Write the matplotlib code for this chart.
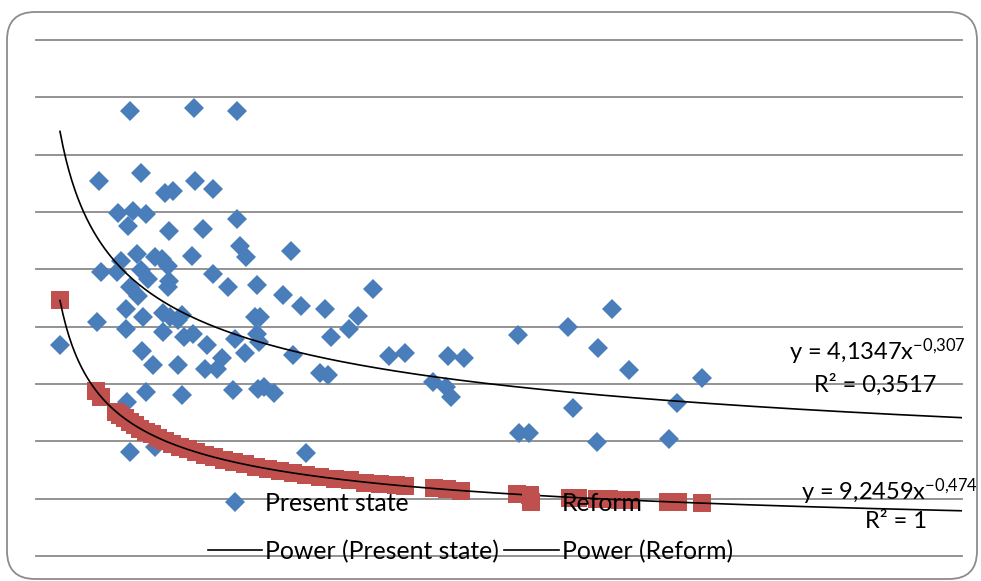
import numpy as np
import matplotlib
matplotlib.use('Agg')
import matplotlib.pyplot as plt
from matplotlib.lines import Line2D
from matplotlib.patches import FancyBboxPatch
from matplotlib.transforms import IdentityTransform

# Present state (scatter)
present_x = [10150, 17060, 21710, 6800, 11340, 13930, 14800, 17170, 19120, 8860,
             10480, 11880, 9940, 14360, 18040, 21710, 22030, 22680, 27540, 10910,
             9180, 12850, 13610, 14260, 16850, 7020, 8750, 11340, 12100, 14360,
             14260, 10150, 11020, 19120, 20740, 23870, 26680, 28620, 31210, 36400,
             9720, 11560, 6590, 9720, 13720, 14470, 15340, 15770, 13720, 15980,
             16960, 18470, 21490, 23650, 24190, 23870, 24080, 20090, 19550, 18250,
             22570, 27760, 30670, 31540, 2590, 11450, 12640, 15340, 11880, 15770,
             21280, 23980, 24620, 25700, 9830, 10150, 12850, 29160, 34780, 33800,
             31860, 38120, 39850, 44500, 46220, 42880, 44280, 44820, 52060, 57460,
             62210, 60700, 64040, 58000, 52160, 53240, 60590, 71930, 69230, 68360]
present_y = [0.388, 0.391, 0.388, 0.327, 0.334, 0.317, 0.318, 0.327, 0.320, 0.299,
             0.301, 0.298, 0.288, 0.283, 0.285, 0.294, 0.270, 0.261, 0.266, 0.263,
             0.257, 0.261, 0.259, 0.253, 0.262, 0.248, 0.248, 0.249, 0.242, 0.240,
             0.235, 0.235, 0.227, 0.246, 0.235, 0.236, 0.228, 0.218, 0.215, 0.233,
             0.215, 0.208, 0.204, 0.198, 0.212, 0.208, 0.206, 0.210, 0.195, 0.191,
             0.194, 0.184, 0.189, 0.208, 0.208, 0.194, 0.187, 0.173, 0.163, 0.163,
             0.177, 0.175, 0.160, 0.158, 0.184, 0.179, 0.167, 0.167, 0.143, 0.140,
             0.145, 0.146, 0.147, 0.142, 0.134, 0.091, 0.095, 0.090, 0.209, 0.198,
             0.191, 0.174, 0.177, 0.174, 0.173, 0.152, 0.147, 0.139, 0.193, 0.200,
             0.215, 0.181, 0.162, 0.129, 0.107, 0.107, 0.099, 0.155, 0.133, 0.102]

# Reform
reform_x = [2590, 6480, 7020, 8640, 9070, 9610, 10150, 10690, 11230, 11880,
            12530, 13180, 13930, 14690, 15550, 16420, 17280, 18250, 19220, 20300,
            21380, 22570, 23760, 25060, 26350, 27760, 29160, 30670, 32290, 33910,
            35530, 37150, 38880, 39850, 42980, 44390, 45900, 51950, 53350, 57670,
            58540, 60590, 61880, 63070, 64260, 68260, 69340, 71930]
reform_y = [0.223, 0.144, 0.139, 0.126, 0.123, 0.120, 0.117, 0.114, 0.111, 0.108,
            0.106, 0.103, 0.100, 0.098, 0.095, 0.093, 0.091, 0.088, 0.086, 0.084,
            0.082, 0.080, 0.078, 0.076, 0.074, 0.072, 0.071, 0.069, 0.067, 0.066,
            0.064, 0.063, 0.062, 0.061, 0.059, 0.058, 0.057, 0.054, 0.053, 0.051,
            0.051, 0.050, 0.0495, 0.049, 0.0487, 0.0473, 0.0469, 0.0461]

# power trendlines as printed on the chart: y = a * x^b
present_fit = (4.1347, -0.307)
reform_fit = (9.2459, -0.474)

blue = '#4a7ebb'
red = '#c0504d'
grid_gray = '#8a8a8a'
font = ['Lato', 'DejaVu Sans']
fsize = 17.8      # legend
eq_size = 17      # trendline labels

plt.rcParams['font.family'] = font
plt.rcParams['mathtext.fontset'] = 'custom'
plt.rcParams['mathtext.rm'] = 'Lato'
plt.rcParams['mathtext.it'] = 'Lato'


def create_figure(outfile):
    W, H = 981, 581
    fig = plt.figure(figsize=(W / 100, H / 100), dpi=100)

    # plot area in pixels: x 36..962, y 40..556 (from top)
    ax = fig.add_axes([36 / W, (H - 556) / H, 926 / W, 516 / H])
    ax.set_xlim(0, 100000)
    ax.set_ylim(0, 0.45)
    ax.set_yticks(np.arange(0, 0.451, 0.05))
    ax.set_xticks([])
    ax.grid(axis='y', color=grid_gray, lw=1.3)
    ax.set_axisbelow(True)
    ax.tick_params(length=0, labelleft=False, labelbottom=False)
    for s in ax.spines.values():
        s.set_visible(False)
    for gl in ax.get_ygridlines():
        gl.set_clip_on(False)

    ax.plot(present_x, present_y, 'D', color=blue, ms=10.5, mec=blue, mew=0,
            zorder=3)
    ax.plot(reform_x, reform_y, 's', color=red, ms=12.5, mec=red, mew=0,
            zorder=4)

    a, b = present_fit
    xf = np.linspace(min(present_x), 100000, 300)
    ax.plot(xf, a * xf ** b, color='black', lw=1.2, zorder=5)
    a, b = reform_fit
    xf = np.linspace(min(reform_x), 100000, 300)
    ax.plot(xf, a * xf ** b, color='black', lw=1.2, zorder=5)

    # legend (column-wise fill: col 1 present, col 2 reform)
    h_present = Line2D([], [], ls='none', marker='D', color=blue, ms=10.5, mew=0)
    h_reform = Line2D([], [], ls='none', marker='s', color=red, ms=12.5, mew=0)
    h_pp = Line2D([], [], color='black', lw=1.2)
    h_pr = Line2D([], [], color='black', lw=1.2)
    leg = ax.legend([h_present, h_pp, h_reform, h_pr],
                    ['Present state', 'Power (Present state)', 'Reform',
                     'Power (Reform)'],
                    ncol=2, loc='lower left', frameon=False, fontsize=fsize,
                    bbox_to_anchor=(208 / W, 18 / H),
                    bbox_transform=fig.transFigure,
                    borderpad=0, borderaxespad=0, handlelength=2.2,
                    handletextpad=0.12, columnspacing=0.2, labelspacing=1.0,
                    numpoints=1)
    leg.set_zorder(6)

    # trendline labels
    fig.text(877 / W, 1 - 352 / H, r'y = 4,1347x$^{\mathregular{-0{,}307}}$',
             ha='center', va='center', fontsize=eq_size)
    fig.text(875 / W, 1 - 385 / H, 'R² = 0,3517', ha='center', va='center',
             fontsize=eq_size)
    fig.text(978 / W, 1 - 492 / H, r'y = 9,2459x$^{\mathregular{-0{,}474}}$',
             ha='right', va='center', fontsize=eq_size)
    fig.text(896 / W, 1 - 522 / H, 'R² = 1', ha='center', va='center',
             fontsize=eq_size)

    # rounded chart border
    border = FancyBboxPatch((7, 2), 970, 567,
                            boxstyle='round,pad=0,rounding_size=28',
                            transform=IdentityTransform(), fc='none',
                            ec='#8c8c8c', lw=1.3)
    fig.add_artist(border)

    fig.savefig(outfile, dpi=100)


def main():
    create_figure('out.png')


if __name__ == "__main__":
    main()
